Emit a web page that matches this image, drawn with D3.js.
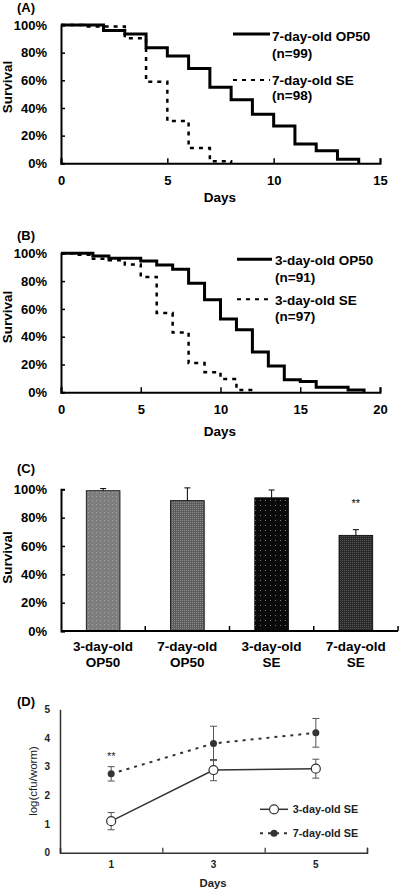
<!DOCTYPE html>
<html><head><meta charset="utf-8">
<script src="https://cdn.jsdelivr.net/npm/d3@7"></script>
<style>
html,body{margin:0;padding:0;background:#fff;}
svg{display:block;font-family:"Liberation Sans",Arial,sans-serif;}
</style></head>
<body><svg id="c" width="400" height="891"></svg>
<script>
// ---------- DATA ----------
// Panel A (7-day-old worms)
const daysA_OP50 = [0,2,3,4,5,6,7,8,9,10,11,12,13,14];
const survA_OP50 = [100,96,93.5,83.5,77.5,68.5,55,46,35.5,27,14,9,3,0];
const daysA_SE   = [0,1,3,4,5,6,7,8];
const survA_SE   = [100,99,90.5,59,30.5,11,1.5,0];
const legendA = ["7-day-old OP50","(n=99)","7-day-old SE","(n=98)"];
const ticksA_x = [0,5,10,15];
// Panel B (3-day-old worms)
const daysB_OP50 = [0,2,3,5,6,7,8,9,10,11,12,13,14,15,16,18,19];
const survB_OP50 = [100,98,96.5,94.5,91.5,88.5,78.5,66.5,52.7,45,29,19,9,7.7,3.6,1.7,0];
const daysB_SE   = [0,1,2,3,4,5,6,7,8,9,10,11,12];
const survB_SE   = [100,99,96,95,92,83,57,43,21,14.5,9.5,1.7,0];
const legendB = ["3-day-old OP50","(n=91)","3-day-old SE","(n=97)"];
const ticksB_x = [0,5,10,15,20];
// Panel C
const catsC = [["3-day-old","OP50"],["7-day-old","OP50"],["3-day-old","SE"],["7-day-old","SE"]];
const valsC = [99,92,94,67.5];
const errC  = [1.5,9,5.5,4];
const sigC  = ["","","","**"];
// common percent ticks
const pctTicks = [0,20,40,60,80,100];
// Panel D
const daysD = [1,3,5];
const d3SE_mean = [1.1,2.88,2.93];
const d3SE_err  = [0.3,0.37,0.33];
const d7SE_mean = [2.75,3.81,4.18];
const d7SE_err  = [0.25,0.6,0.5];
const sigD = ["**","",""];
const ticksD_y = [0,1,2,3,4,5];
const legendD = ["3-day-old SE","7-day-old SE"];

// ---------- DRAW ----------
const svg = d3.select("#c");
const F = '"Liberation Sans",Arial,sans-serif';

const defs = svg.append("defs");
function pat(id, bg, dot, size, dsz){
  const p = defs.append("pattern").attr("id",id).attr("patternUnits","userSpaceOnUse")
    .attr("width",size).attr("height",size);
  p.append("rect").attr("width",size).attr("height",size).attr("fill",bg);
  p.append("rect").attr("x",0).attr("y",0).attr("width",dsz).attr("height",dsz).attr("fill",dot);
}
pat("p1","#7e7e7e","#a4a4a4",4,1);
pat("p2","#5c5c5c","#8c8c8c",2,1);
pat("p3","#0a0a0a","#7a7a7a",5,1);
pat("p4","#2a2a2a","#555555",2,1);
const fills = ["url(#p1)","url(#p2)","url(#p3)","url(#p4)"];

function text(x,y,t,o){
  o=o||{};
  const el = svg.append("text").attr("x",x).attr("y",y).text(t)
    .attr("font-size",o.size||13).attr("font-weight",o.weight||"bold")
    .attr("text-anchor",o.anchor||"start").attr("fill",o.fill||"#000");
  if(o.rot) el.attr("transform",`rotate(-90,${x},${y})`);
  if(o.dy) el.attr("dy",o.dy);
  return el;
}

function survivalPanel(cfg){
  const x = d3.scaleLinear().domain([0,cfg.xmax]).range([61,380]);
  const y = d3.scaleLinear().domain([0,100]).range([cfg.y0,cfg.y1]);
  const g = svg.append("g");
  // y axis
  const ya = d3.axisLeft(y).tickValues(pctTicks).tickSize(-4).tickFormat(d=>d+"%").tickPadding(10);
  const gy = g.append("g").attr("transform","translate(61,0)").call(ya);
  gy.select(".domain").attr("stroke","#000").attr("stroke-width",2);
  gy.selectAll(".tick line").attr("stroke","#000").attr("stroke-width",1.5);
  gy.selectAll("text").attr("font-size",13).attr("font-weight","bold").attr("font-family",F).attr("fill","#000").attr("x",-14);
  // x axis
  const xa = d3.axisBottom(x).tickValues(cfg.xticks).tickSize(-5).tickPadding(12).tickFormat(d3.format("d"));
  const gx = g.append("g").attr("transform",`translate(0,${cfg.y0})`).call(xa);
  gx.select(".domain").attr("stroke","#000").attr("stroke-width",2);
  gx.selectAll(".tick line").attr("stroke","#000").attr("stroke-width",1.5);
  gx.selectAll("text").attr("font-size",13).attr("font-weight","bold").attr("font-family",F).attr("fill","#000");
  // curves
  const line = d3.line().x(d=>x(d[0])).y(d=>y(d[1])).curve(d3.curveStepAfter);
  g.append("path").datum(d3.zip(cfg.seDays,cfg.seSurv)).attr("d",line)
    .attr("fill","none").attr("stroke","#000").attr("stroke-width",2.5).attr("stroke-dasharray","4,5");
  g.append("path").datum(d3.zip(cfg.opDays,cfg.opSurv)).attr("d",line)
    .attr("fill","none").attr("stroke","#000").attr("stroke-width",3);
  // legend
  const L = cfg.leg;
  g.append("line").attr("x1",L.x1).attr("x2",L.x2).attr("y1",L.ly1).attr("y2",L.ly1).attr("stroke","#000").attr("stroke-width",3);
  g.append("line").attr("x1",L.x1).attr("x2",L.x2).attr("y1",L.ly2).attr("y2",L.ly2).attr("stroke","#000").attr("stroke-width",2).attr("stroke-dasharray","4,5");
  cfg.labels.forEach((t,i)=>text(L.tx,L.bl[i],t,{size:13.5}));
  // titles
  text(cfg.lx, cfg.ly, "Survival", {size:13.5, rot:true, anchor:"middle"});
  text(220, cfg.daysY, "Days", {size:13.5, anchor:"middle"});
  text(17, cfg.tagY, cfg.tag, {size:13});
}

survivalPanel({xmax:15, y0:163.3, y1:25, xticks:ticksA_x,
  opDays:daysA_OP50, opSurv:survA_OP50, seDays:daysA_SE, seSurv:survA_SE,
  leg:{x1:233,x2:270,ly1:34,ly2:80,tx:272,bl:[41,58,84.5,100]},
  labels:legendA, lx:12, ly:87, daysY:202, tag:"(A)", tagY:11.5});

survivalPanel({xmax:20, y0:392.3, y1:253.3, xticks:ticksB_x,
  opDays:daysB_OP50, opSurv:survB_OP50, seDays:daysB_SE, seSurv:survB_SE,
  leg:{x1:237,x2:272,ly1:259.3,ly2:299.3,tx:275,bl:[264.5,281.5,304.5,320.5]},
  labels:legendB, lx:12, ly:317, daysY:436, tag:"(B)", tagY:240});

// ---------- Panel C ----------
(function(){
  const x = d3.scaleBand().domain(d3.range(catsC.length)).range([61,398]).paddingInner(0.6).paddingOuter(0.3);
  const xb = d3.scaleBand().domain(d3.range(catsC.length)).range([61,398]);
  const y = d3.scaleLinear().domain([0,100]).range([631,489.3]);
  const g = svg.append("g");
  g.selectAll("rect.bar").data(valsC).join("rect").attr("class","bar")
    .attr("x",(d,i)=>x(i)).attr("width",x.bandwidth())
    .attr("y",d=>y(d)).attr("height",d=>y(0)-y(d))
    .attr("fill",(d,i)=>fills[i]).attr("stroke","#000").attr("stroke-width",0.8);
  // error bars (upper)
  valsC.forEach((v,i)=>{
    const cx = xb(i)+xb.bandwidth()/2;
    g.append("line").attr("x1",cx).attr("x2",cx).attr("y1",y(v)).attr("y2",y(v+errC[i])).attr("stroke","#000").attr("stroke-width",1);
    g.append("line").attr("x1",cx-3).attr("x2",cx+3).attr("y1",y(v+errC[i])).attr("y2",y(v+errC[i])).attr("stroke","#000").attr("stroke-width",1);
    if(sigC[i]) text(cx, 507, sigC[i], {size:11, weight:"normal", anchor:"middle"});
    text(cx, 650.5, catsC[i][0], {size:13.5, anchor:"middle"});
    text(cx, 666.5, catsC[i][1], {size:13.5, anchor:"middle"});
  });
  const ya = d3.axisLeft(y).tickValues(pctTicks).tickSize(-4).tickFormat(d=>d+"%");
  const gy = g.append("g").attr("transform","translate(61,0)").call(ya);
  gy.select(".domain").attr("stroke","#000").attr("stroke-width",2);
  gy.selectAll(".tick line").attr("stroke","#000").attr("stroke-width",1.5);
  gy.selectAll("text").attr("font-size",13).attr("font-weight","bold").attr("font-family",F).attr("fill","#000").attr("x",-14);
  // x axis with category boundary ticks
  const bounds = d3.range(catsC.length+1).map(i=> i<catsC.length ? xb(i) : xb.range()[1]);
  g.append("line").attr("x1",61).attr("x2",398).attr("y1",631).attr("y2",631).attr("stroke","#000").attr("stroke-width",2);
  bounds.slice(1).forEach(b=>g.append("line").attr("x1",b).attr("x2",b).attr("y1",631).attr("y2",626).attr("stroke","#000").attr("stroke-width",1.5));
  text(12, 557.5, "Survival", {size:13.5, rot:true, anchor:"middle"});
  text(17, 473, "(C)", {size:13});
})();

// ---------- Panel D ----------
(function(){
  const x = d3.scaleLinear().domain([0,6]).range([60,367]);
  const y = d3.scaleLinear().domain([0,5]).range([852.7,709.3]);
  const g = svg.append("g");
  const col = "#333";
  // axes
  const ya = d3.axisLeft(y).tickValues(ticksD_y).tickSize(0).tickPadding(10).tickFormat(d3.format("d"));
  const gy = g.append("g").attr("transform","translate(60,0)").call(ya);
  gy.select(".domain").attr("stroke",col).attr("stroke-width",1.5);
  gy.selectAll("text").attr("font-size",10).attr("font-weight","bold").attr("font-family",F).attr("fill","#222");
  const xa = d3.axisBottom(x).tickValues([0,2,4,6]).tickSize(-5).tickFormat("");
  const gx = g.append("g").attr("transform","translate(0,852.7)").call(xa);
  gx.select(".domain").attr("stroke",col).attr("stroke-width",1.5);
  gx.selectAll(".tick line").attr("stroke",col).attr("stroke-width",1.2);
  daysD.forEach(d=>text(x(d), 868, String(d), {size:10, anchor:"middle", fill:"#222"}));
  // lines
  const ln = d3.line().x(d=>x(d[0])).y(d=>y(d[1]));
  g.append("path").datum(d3.zip(daysD,d7SE_mean)).attr("d",ln).attr("fill","none")
    .attr("stroke",col).attr("stroke-width",2).attr("stroke-dasharray","3,5");
  g.append("path").datum(d3.zip(daysD,d3SE_mean)).attr("d",ln).attr("fill","none")
    .attr("stroke",col).attr("stroke-width",1.5);
  // error bars
  function eb(means,errs){
    means.forEach((m,i)=>{
      const cx=x(daysD[i]);
      g.append("line").attr("x1",cx).attr("x2",cx).attr("y1",y(m-errs[i])).attr("y2",y(m+errs[i])).attr("stroke","#555").attr("stroke-width",1);
      [m-errs[i],m+errs[i]].forEach(v=>g.append("line").attr("x1",cx-3.5).attr("x2",cx+3.5).attr("y1",y(v)).attr("y2",y(v)).attr("stroke","#555").attr("stroke-width",1));
    });
  }
  eb(d3SE_mean,d3SE_err); eb(d7SE_mean,d7SE_err);
  g.selectAll("circle.o").data(d3SE_mean).join("circle").attr("class","o")
    .attr("cx",(d,i)=>x(daysD[i])).attr("cy",d=>y(d)).attr("r",4.5).attr("fill","#fff").attr("stroke",col).attr("stroke-width",1.2);
  g.selectAll("circle.f").data(d7SE_mean).join("circle").attr("class","f")
    .attr("cx",(d,i)=>x(daysD[i])).attr("cy",d=>y(d)).attr("r",3.5).attr("fill",col);
  sigD.forEach((s,i)=>{ if(s) text(x(daysD[i]), 760, s, {size:11, weight:"normal", anchor:"middle", fill:"#222"}); });
  // legend
  g.append("line").attr("x1",260).attr("x2",288).attr("y1",809.3).attr("y2",809.3).attr("stroke",col).attr("stroke-width",1.5);
  g.append("circle").attr("cx",274).attr("cy",809.3).attr("r",4.5).attr("fill","#fff").attr("stroke",col).attr("stroke-width",1.2);
  g.append("line").attr("x1",260).attr("x2",290).attr("y1",833.3).attr("y2",833.3).attr("stroke",col).attr("stroke-width",2).attr("stroke-dasharray","3,5");
  g.append("circle").attr("cx",274).attr("cy",833.3).attr("r",3.5).attr("fill",col);
  text(292.7, 813, legendD[0], {size:10.8, fill:"#222"});
  text(292.7, 837, legendD[1], {size:10.8, fill:"#222"});
  text(37, 781, "log(cfu/worm)", {size:11.5, weight:"normal", rot:true, anchor:"middle", fill:"#222"});
  text(213, 887, "Days", {size:11.3, anchor:"middle", fill:"#222"});
  text(17, 706, "(D)", {size:13});
})();
</script></body></html>
